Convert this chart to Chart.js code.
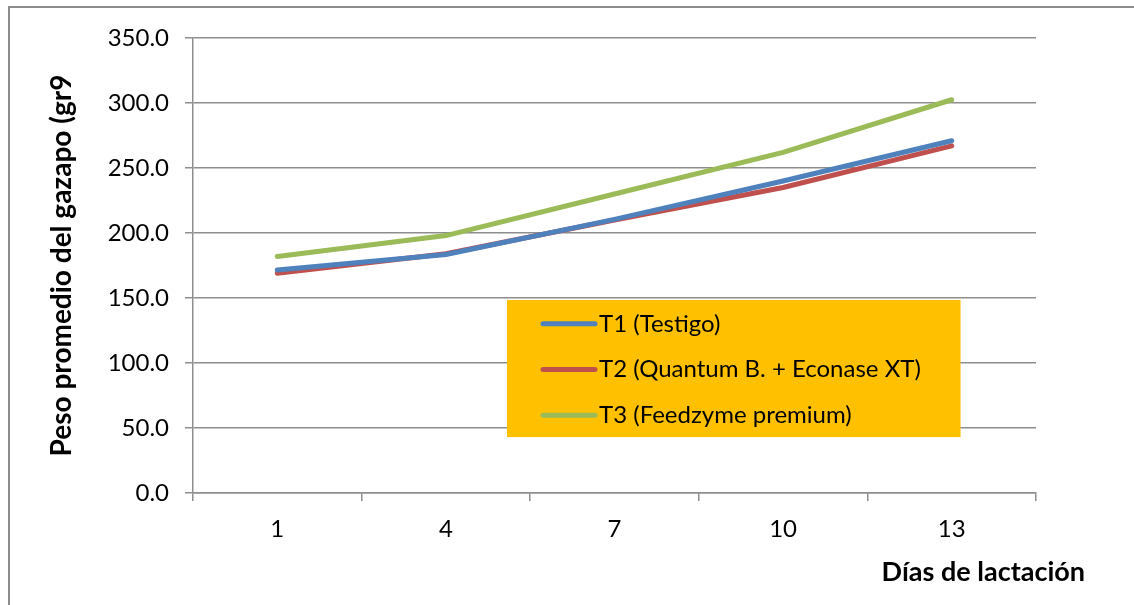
<!DOCTYPE html>
<html>
<head>
<meta charset="utf-8">
<script src="https://cdn.jsdelivr.net/npm/chart.js@4/dist/chart.umd.min.js"></script>
<style>
  html, body { margin: 0; padding: 0; background: #ffffff; }
  #wrap { width: 1134px; height: 605px; position: relative; }
</style>
</head>
<body>
<div id="wrap"><canvas id="chart" width="1134" height="605"></canvas></div>
<script>
// Días de lactación
const dias = ['1', '4', '7', '10', '13'];

// Peso promedio del gazapo (g) por tratamiento
const t1Testigo = [171.5, 183.5, 210.5, 240.0, 271.0];
const t2Quantum = [169.0, 184.0, 210.0, 235.0, 267.0];
const t3Feedzyme = [182.0, 198.0, 230.0, 262.0, 302.5];

const serieNombres = ['T1 (Testigo)', 'T2 (Quantum B. + Econase XT)', 'T3 (Feedzyme premium)'];
const serieColores = ['#4F81BD', '#C0504D', '#9BBB59'];

const yMin = 0, yMax = 350, yPaso = 50;

const FONT = 'Lato, "Open Sans", "DejaVu Sans", sans-serif';
const GRIS = '#8e8e8e';

// Outer frame of the chart object
const marco = {
  id: 'marco',
  beforeDraw(chart) {
    const ctx = chart.ctx;
    ctx.save();
    ctx.strokeStyle = '#8c8c8c';
    ctx.lineWidth = 2;
    ctx.strokeRect(9, 7, 3000, 3000);
    ctx.restore();
  }
};

// Legend drawn inside the plot area on an orange panel
const leyenda = {
  id: 'leyenda',
  afterDatasetsDraw(chart) {
    const ctx = chart.ctx;
    const a = chart.chartArea;
    const w = a.right - a.left;
    const x0 = a.left + w * 0.3725;
    const x1 = a.left + w * 0.9105;
    const y0 = chart.scales.y.getPixelForValue(148.5);
    const y1 = chart.scales.y.getPixelForValue(43);
    ctx.save();
    ctx.fillStyle = '#FFC000';
    ctx.fillRect(x0, y0, x1 - x0, y1 - y0);
    const rowH = (y1 - y0) / 3;
    chart.data.datasets.forEach((ds, i) => {
      const cy = y0 + rowH * (i + 0.5) + 1;
      ctx.strokeStyle = ds.borderColor;
      ctx.lineWidth = 5;
      ctx.lineCap = 'round';
      ctx.beginPath();
      ctx.moveTo(x0 + 36, cy);
      ctx.lineTo(x0 + 88, cy);
      ctx.stroke();
      ctx.fillStyle = '#000000';
      ctx.font = '24px ' + FONT;
      ctx.textBaseline = 'middle';
      ctx.textAlign = 'left';
      ctx.fillText(ds.label, x0 + 92, cy);
    });
    ctx.restore();
  }
};

// X axis title placed at the lower right
const tituloX = {
  id: 'tituloX',
  afterDraw(chart) {
    const ctx = chart.ctx;
    ctx.save();
    ctx.fillStyle = '#000000';
    ctx.font = 'bold 27px ' + FONT;
    ctx.textBaseline = 'middle';
    ctx.textAlign = 'right';
    ctx.fillText('Días de lactación', 1085, 572);
    ctx.restore();
  }
};

const datos = [t1Testigo, t2Quantum, t3Feedzyme];

new Chart(document.getElementById('chart'), {
  type: 'line',
  data: {
    labels: dias,
    datasets: datos.map((d, i) => ({
      label: serieNombres[i],
      data: d,
      borderColor: serieColores[i],
      backgroundColor: serieColores[i],
      borderWidth: 5,
      borderCapStyle: 'round',
      borderJoinStyle: 'round',
      pointRadius: 0,
      tension: 0,
      fill: false
    }))
  },
  options: {
    responsive: false,
    animation: false,
    layout: { padding: { top: 38, right: 98, left: 0, bottom: 0 } },
    plugins: {
      legend: { display: false },
      tooltip: { enabled: false }
    },
    scales: {
      x: {
        type: 'category',
        offset: true,
        grid: {
          offset: true,
          drawOnChartArea: false,
          drawTicks: true,
          tickLength: 8,
          color: GRIS,
          lineWidth: 1.5
        },
        border: { display: true, color: GRIS, width: 1.5 },
        ticks: {
          color: '#000000',
          font: { family: FONT, size: 24 },
          padding: 14,
          maxRotation: 0
        },
        afterFit(scale) { scale.height = 112; }
      },
      y: {
        min: yMin,
        max: yMax,
        grid: {
          color: GRIS,
          lineWidth: 1.5,
          drawTicks: true,
          tickLength: 8
        },
        border: { display: true, color: GRIS, width: 1.5 },
        ticks: {
          stepSize: yPaso,
          color: '#000000',
          font: { family: FONT, size: 24 },
          padding: 16,
          callback: v => Number(v).toFixed(1)
        },
        title: {
          display: true,
          text: 'Peso promedio del gazapo (gr9',
          color: '#000000',
          font: { family: FONT, size: 28, weight: 'bold' },
          padding: { top: 45, bottom: 0 }
        },
        afterFit(scale) { scale.width = 193; }
      }
    }
  },
  plugins: [marco, leyenda, tituloX]
});
</script>
</body>
</html>
